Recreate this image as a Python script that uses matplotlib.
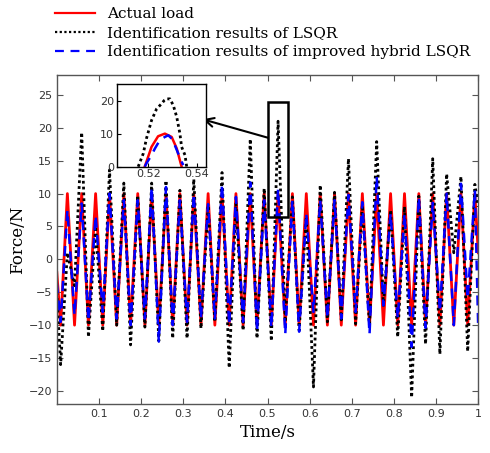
import numpy as np
import matplotlib
matplotlib.use('Agg')
import matplotlib.pyplot as plt
from matplotlib.patches import Rectangle

# instantes de los extremos (picos y valles)
t = [0.0, 0.009,
     0.025, 0.042, 0.059, 0.075, 0.092, 0.109, 0.125, 0.142, 0.159, 0.175,
     0.192, 0.209, 0.225, 0.242, 0.259, 0.275, 0.292, 0.309, 0.325, 0.342,
     0.359, 0.375, 0.392, 0.409, 0.425, 0.442, 0.459, 0.475, 0.492, 0.509,
     0.525, 0.542, 0.559, 0.575, 0.592, 0.609, 0.625, 0.642, 0.659, 0.675,
     0.692, 0.709, 0.725, 0.742, 0.759, 0.775, 0.792, 0.809, 0.825, 0.842,
     0.859, 0.875, 0.892, 0.909, 0.925, 0.942, 0.959, 0.975, 0.992, 1.0]

carga_real = [-2, -10] + [10, -10] * 29 + [10, 1]

lsqr = [-5, -16,
        1, -4, 19.3, -11.8, 5, -10.9, 13.6, -10, 11.6, -13,
        9.7, -10.3, 11.6, -12.4, 12, -12, 10.5, -12, 12.2, -10.5,
        8.2, -9.5, 13.2, -16.5, 8.5, -10.8, 18.3, -12, 10.8, -12.4,
        21, -9.5, 9.5, -10.8, 6.5, -19.4, 11.3, -9.5, 10.2, -9.2,
        15.3, -9.8, 8.2, -10.3, 17.9, -7, 7.5, -11.8, 8, -21,
        9.6, -12.9, 15.3, -14.4, 13, 1, 12.6, -14, 11.4, 8]

hibrido = [-3.6, -9.5,
           7.5, -8.5, 8.5, -9.4, 6.7, -8, 10, -9, 9, -10,
           9, -9, 11, -12.5, 11, -10, 9, -9.5, 10, -9,
           8.4, -9, 11.5, -10, 9.5, -9.5, 11.7, -11, 9, -10.4,
           10.7, -11.4, 9, -11, 7, -8, 9, -9, 9, -9,
           9.8, -8, 8.7, -11.4, 12.6, -7, 7, -9, 7, -13.3,
           9.5, -10.4, 8.6, -8, 10, -10, 11.5, -6, 10.5, -10.5]

# datos del recuadro ampliado (0.51 - 0.54 s)
t_in_real = [0.5186, 0.5214, 0.5241, 0.5269, 0.5297, 0.5318, 0.5338]
f_in_real = [0, 6, 9.2, 10, 9, 5.5, 0]
t_in_lsqr = [0.5159, 0.518, 0.5193, 0.5214, 0.5235, 0.5255, 0.5266, 0.5276,
             0.529, 0.5304, 0.5318, 0.5331, 0.5338, 0.5352, 0.5359]
f_in_lsqr = [0, 4, 8.5, 14, 17.5, 19, 20, 20.5, 20.5, 18.5, 15, 10, 6, 3.5, 0]
t_in_hib = [0.5186, 0.5193, 0.5214, 0.5228, 0.5248, 0.5269, 0.5283, 0.5297,
            0.531, 0.5324, 0.5338, 0.5345]
f_in_hib = [0, 1, 3.5, 5.5, 8, 9, 9.5, 8.5, 6.5, 4, 1.5, 0.5]

etiquetas = ['Actual load', 'Identification results of LSQR',
             'Identification results of improved hybrid LSQR']

serif = 'DejaVu Serif'
estilo_lsqr = (0, (1, 1.1))
estilo_hib = (0, (4, 3))

fig = plt.figure(figsize=(4.9, 4.53), dpi=100)
ax = fig.add_axes([0.116, 0.108, 0.86, 0.726])

l1, = ax.plot(t, carga_real, color='red', lw=2, solid_joinstyle='round')
l2, = ax.plot(t, lsqr, color='black', lw=2, linestyle=estilo_lsqr)
l3, = ax.plot(t, hibrido, color='blue', lw=1.8, linestyle=estilo_hib)

ax.set_xlim(0, 1)
ax.set_ylim(-22, 28)
ax.set_xticks(np.arange(0.1, 1.01, 0.1))
ax.set_xticklabels(['0.1', '0.2', '0.3', '0.4', '0.5', '0.6', '0.7', '0.8', '0.9', '1'])
ax.set_yticks(np.arange(-20, 26, 5))
ax.tick_params(direction='in', top=True, right=True, length=4, width=0.8,
               labelsize=8, labelcolor='#333333', color='#555555')
for lado in ax.spines.values():
    lado.set_color('#555555')
    lado.set_linewidth(1)
ax.set_xlabel('Time/s', fontfamily=serif, fontsize=12, labelpad=4)
ax.set_ylabel('Force/N', fontfamily=serif, fontsize=12, labelpad=2)

# recuadro de la zona ampliada y flecha
ax.add_patch(Rectangle((0.5005, 6.5), 0.0485, 17.5, fill=False,
                       edgecolor='black', lw=1.8, zorder=5))
ax.annotate('', xy=(0.346, 21.3), xytext=(0.5005, 18.5),
            arrowprops=dict(arrowstyle='->', color='black', lw=1.5,
                            mutation_scale=16, shrinkA=0, shrinkB=0), zorder=6)

# grafica ampliada
axi = fig.add_axes([0.238, 0.632, 0.1816, 0.1826])
axi.plot(t_in_real, f_in_real, color='red', lw=1.8)
axi.plot(t_in_lsqr, f_in_lsqr, color='black', lw=2, linestyle=estilo_lsqr)
axi.plot(t_in_hib, f_in_hib, color='blue', lw=1.8, linestyle=estilo_hib)
axi.set_xlim(0.507, 0.5437)
axi.set_ylim(0, 25)
axi.set_xticks([0.52, 0.54])
axi.set_xticklabels(['0.52', '0.54'])
axi.set_yticks([0, 10, 20])
axi.tick_params(direction='in', length=3, width=0.8, labelsize=8,
                labelcolor='#333333', pad=2)
for lado in axi.spines.values():
    lado.set_color('black')
    lado.set_linewidth(1)

leyenda = fig.legend([l1, l2, l3], etiquetas, loc='upper left',
                     bbox_to_anchor=(0.09, 1.008), frameon=False,
                     prop={'family': serif, 'size': 11},
                     handlelength=2.6, handletextpad=0.8, labelspacing=0.33,
                     borderpad=0.2)
for h in leyenda.get_lines():
    h.set_linewidth(1.6)

fig.savefig('out.png', dpi=100)
